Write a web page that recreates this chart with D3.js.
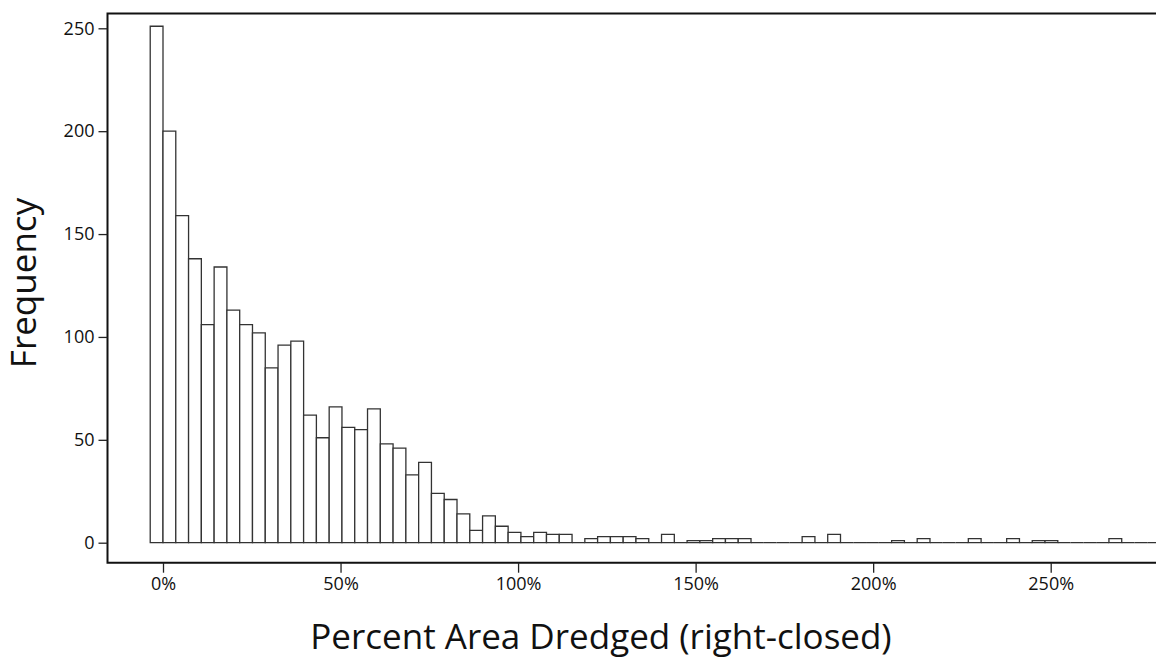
<!DOCTYPE html>
<meta charset="utf-8">
<style>

    body { margin: 0; background: #fff; }

    .bar {
        fill: #fff;
        stroke: #333;
        stroke-width: 1.3px;
    }

    .frame {
        fill: none;
        stroke: #111;
        stroke-width: 2px;
    }

    .axis path { display: none; }
    .axis line { stroke: #222; stroke-width: 1.3px; }
    .axis text { font: 18px "Open Sans", sans-serif; fill: #111; }

    .title { font: 35px "Open Sans", sans-serif; fill: #111; }

</style>
<svg width="1156" height="660"></svg>
<script src="https://cdn.jsdelivr.net/npm/d3@7"></script>
<script>

    // histogram bins, right-closed: (binStart + i*binWidth, binStart + (i+1)*binWidth]
    var binStart = -3.6;
    var binWidth = 3.6;
    var counts = [
        251, 200, 159, 138, 106, 134, 113, 106, 102, 85,
        96, 98, 62, 51, 66, 56, 55, 65, 48, 46,
        33, 39, 24, 21, 14, 6, 13, 8, 5, 3,
        5, 4, 4, 0, 2, 3, 3, 3, 2, 0,
        4, 0, 1, 1, 2, 2, 2, 0, 0, 0,
        0, 3, 0, 4, 0, 0, 0, 0, 1, 0,
        2, 0, 0, 0, 2, 0, 0, 2, 0, 1,
        1, 0, 0, 0, 0, 2, 0, 0, 0, 0
    ];
    var xTicks = [0, 50, 100, 150, 200, 250];
    var yTicks = [0, 50, 100, 150, 200, 250];

    var svg = d3.select("svg");

    var x = d3.scaleLinear().domain([0, 250]).range([163, 1050.7]);
    var y = d3.scaleLinear().domain([0, 250]).range([542.7, 28.3]);

    var frameLeft = 107.5, frameTop = 13.5, frameBottom = 562.7;

    var bins = counts.map(function(c, i) {
        return { x0: binStart + i * binWidth, x1: binStart + (i + 1) * binWidth, count: c };
    });

    // paths instead of rects so empty bins still draw their base line
    svg.append("g")
        .selectAll("path")
        .data(bins)
        .enter().append("path")
            .attr("class", "bar")
            .attr("d", function(d) {
                return "M" + x(d.x0) + "," + y(0)
                    + "V" + y(d.count)
                    + "H" + x(d.x1)
                    + "V" + y(0) + "Z";
            });

    // frame runs off the right edge, as in the cropped original
    svg.append("path")
        .attr("class", "frame")
        .attr("d", "M1170," + frameTop + "H" + frameLeft + "V" + frameBottom + "H1170");

    svg.append("g")
        .attr("class", "axis")
        .attr("transform", "translate(0," + frameBottom + ")")
        .call(d3.axisBottom(x).tickValues(xTicks).tickSize(10).tickPadding(5)
            .tickFormat(function(d) { return d + "%"; }));

    svg.append("g")
        .attr("class", "axis")
        .attr("transform", "translate(" + frameLeft + ",0)")
        .call(d3.axisLeft(y).tickValues(yTicks).tickSize(9).tickPadding(4));

    svg.append("text")
        .attr("class", "title")
        .attr("text-anchor", "middle")
        .attr("transform", "translate(36,283) rotate(-90)")
        .text("Frequency");

    svg.append("text")
        .attr("class", "title")
        .attr("text-anchor", "middle")
        .attr("x", 601)
        .attr("y", 649)
        .text("Percent Area Dredged (right-closed)");

</script>
